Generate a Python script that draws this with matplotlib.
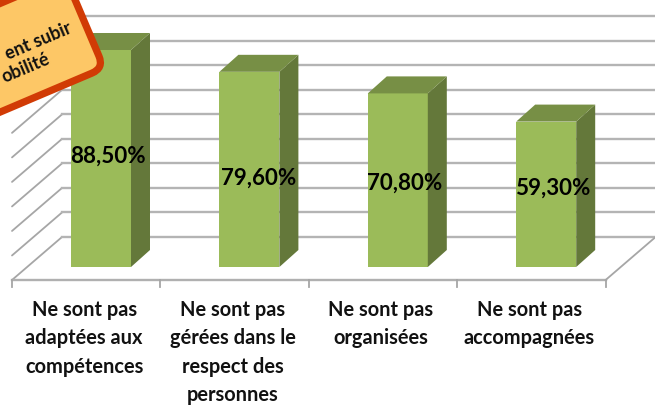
import matplotlib
matplotlib.use('Agg')
import matplotlib.pyplot as plt
from matplotlib.patches import FancyBboxPatch, Polygon
from matplotlib.transforms import Affine2D

categories = ['Ne sont pas\nadaptées aux\ncompétences',
              'Ne sont pas\ngérées dans le\nrespect des\npersonnes',
              'Ne sont pas\norganisées',
              'Ne sont pas\naccompagnées']
values = [88.5, 79.6, 70.8, 59.3]
value_labels = ['88,50%', '79,60%', '70,80%', '59,30%']
grid_values = [0, 10, 20, 30, 40, 50, 60, 70, 80, 90]
callout_lines = ['ent subir', 'obilité']

W, H = 655, 407
# scale of the chart in pixels
x0, x_step = 101, 148.4
y0, y_step = 267, 2.452
bar_w = 60 / x_step
depth_x, depth_y = 19 / x_step, 17 / y_step
wall_x, wall_y = 50 / x_step, 43 / y_step
floor_y = (y0 - 280) / y_step
left = (12 - x0) / x_step
right = left + 4

plt.rcParams['font.family'] = ['Lato', 'DejaVu Sans']

fig = plt.figure(figsize=(W / 100, H / 100), dpi=100)
ax = fig.add_axes([0, 0, 1, 1])
ax.set_xlim(-x0 / x_step, (W - x0) / x_step)
ax.set_ylim((y0 - H) / y_step, y0 / y_step)
ax.axis('off')

grid = '#b4b4b4'
for g in grid_values:
    y = floor_y + g
    ax.plot([left, left + wall_x], [y, y + wall_y], color='#a6a6a6', lw=1.3, zorder=1, solid_capstyle='round')
    ax.plot([left + wall_x, (W + 5 - x0) / x_step], [y + wall_y, y + wall_y], color=grid, lw=1.7, zorder=1)
ax.plot([left, right], [floor_y, floor_y], color='#b0b0b0', lw=1.7, zorder=2)
ax.plot([right, right + wall_x], [floor_y, floor_y + wall_y], color='#a6a6a6', lw=1.3, zorder=2)
for i in range(5):
    ax.plot([left + i, left + i], [floor_y, floor_y - 7 / y_step], color='#a6a6a6', lw=1.3, zorder=2)

xs = list(range(len(values)))
ax.bar(xs, values, width=bar_w, color='#9bbb59', zorder=3)
for x, v in zip(xs, values):
    r = x + bar_w / 2
    l = x - bar_w / 2
    ax.add_patch(Polygon([(r, 0), (r + depth_x, depth_y), (r + depth_x, v + depth_y), (r, v)],
                         color='#64783a', lw=0, zorder=3))
    ax.add_patch(Polygon([(l, v), (l + depth_x, v + depth_y), (r + depth_x, v + depth_y), (r, v)],
                         color='#778f45', lw=0, zorder=3))

# nudges of the value labels, pixels
label_dx = [7, 9, 7, 7]
label_dy = [2, -9, -3, 6]
for x, v, s, dx, dy in zip(xs, values, value_labels, label_dx, label_dy):
    ax.text(x + dx / x_step, v / 2 + dy / y_step, s, ha='center', va='center',
            fontsize=16.1, color='black', fontweight='bold', zorder=4)

for i, c in enumerate(categories):
    ax.text(left + i + 0.5 - 2 / x_step, (y0 - 300) / y_step, c, ha='center', va='top',
            fontsize=14.4, fontweight='bold', color='#111111', linespacing=1.53, zorder=4)

# callout in pixel coordinates
ov = fig.add_axes([0, 0, 1, 1], facecolor='none')
ov.set_xlim(0, W)
ov.set_ylim(H, 0)
ov.axis('off')
angle = -23
tr = Affine2D().rotate_deg(angle).translate(104, 68) + ov.transData
ov.add_patch(FancyBboxPatch((-290, -100), 290, 100, boxstyle='round,pad=0,rounding_size=13',
                            facecolor='#fdc766', edgecolor='#d13b05', lw=5.2, transform=tr, zorder=5))
ov.text(71, 27, callout_lines[0], rotation=23, rotation_mode='anchor', ha='right', va='center',
        fontsize=13, fontweight='bold', color='#111111', zorder=6)
ov.text(49, 58, callout_lines[1], rotation=23, rotation_mode='anchor', ha='right', va='center',
        fontsize=13, fontweight='bold', color='#111111', zorder=6)

fig.savefig('out.png', dpi=100)
